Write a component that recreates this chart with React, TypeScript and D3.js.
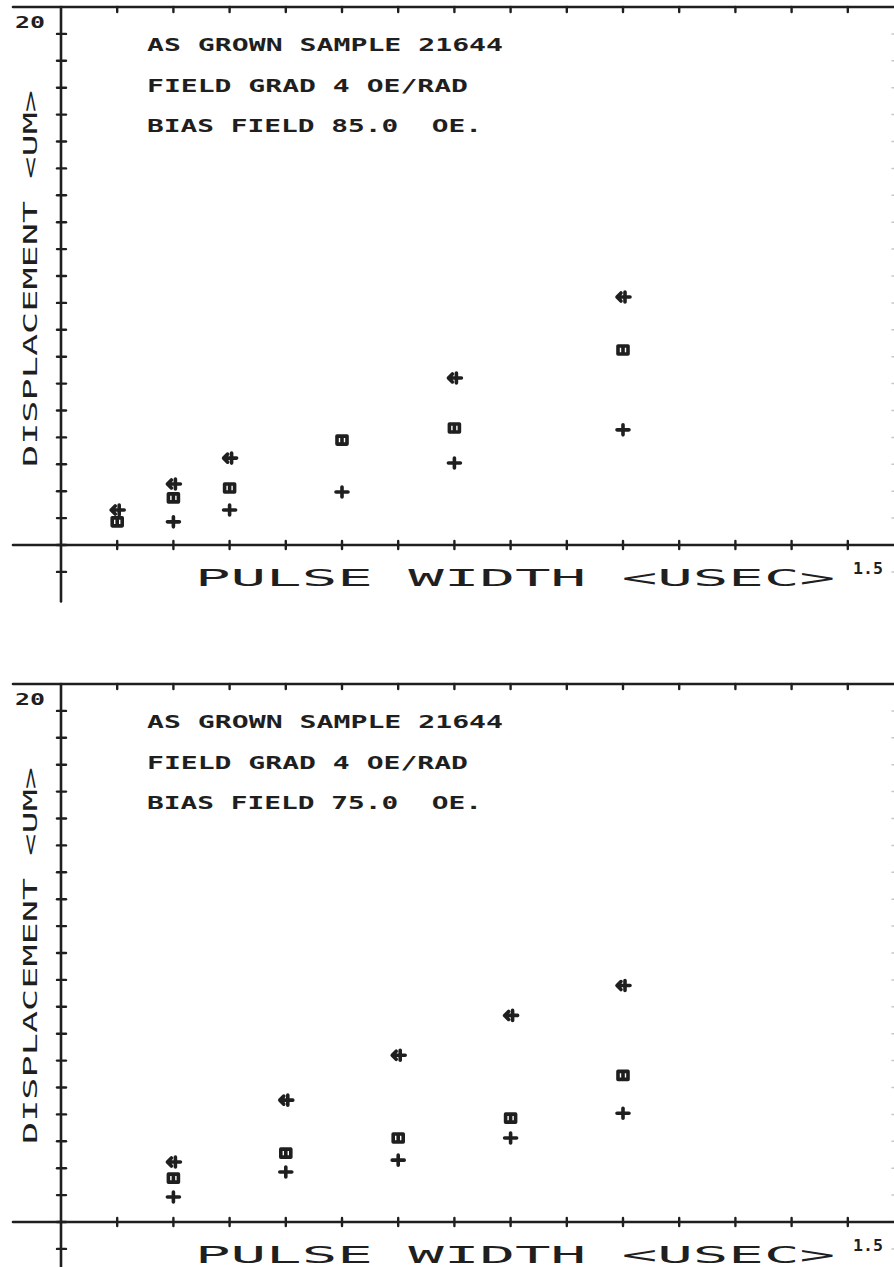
import React, { useEffect, useRef } from 'react';
import * as d3 from 'd3';

// pulse width (usec) / displacement (um)
const pulseWidths85 = [0.1, 0.2, 0.3, 0.5, 0.7, 1.0];
const low85 = [null, 0.86, 1.3, 1.97, 3.05, 4.28];
const mid85 = [0.86, 1.75, 2.12, 3.9, 4.35, 7.25];
const high85 = [1.3, 2.27, 3.23, null, 6.21, 9.22];

const pulseWidths75 = [0.2, 0.4, 0.6, 0.8, 1.0];
const low75 = [0.93, 1.86, 2.3, 3.12, 4.04];
const mid75 = [1.63, 2.56, 3.12, 3.86, 5.45];
const high75 = [2.23, 4.53, 6.2, 7.68, 8.79];

const headerLines85 = ['AS GROWN SAMPLE 21644', 'FIELD GRAD 4 OE/RAD', 'BIAS FIELD 85.0  OE.'];
const headerLines75 = ['AS GROWN SAMPLE 21644', 'FIELD GRAD 4 OE/RAD', 'BIAS FIELD 75.0  OE.'];

const yLabel = 'DISPLACEMENT <UM>';
const xLabel = 'PULSE WIDTH <USEC>';
const yMaxLabel = '20';
const xMaxLabel = '1.5';

const xTicks = d3.range(1, 15).map(d => d / 10);
const yTicks = d3.range(-1, 20);

const INK = '#1f1f1f';
const FONT = '"DejaVu Sans Mono", monospace';

const markerPaths: Record<string, string> = {
  low: 'M-6,0H6M0,-5V5',
  mid: 'M-5,-4H5V4H-5Z M0,-4V4',
  high: 'M2,-5V5 M-2,0H7 M-2,-4L-6,0L-2,4',
};

interface Panel {
  offset: number;
  xs: number[];
  low: (number | null)[];
  mid: (number | null)[];
  high: (number | null)[];
  header: string[];
}

const panels: Panel[] = [
  { offset: 0, xs: pulseWidths85, low: low85, mid: mid85, high: high85, header: headerLines85 },
  { offset: 677, xs: pulseWidths75, low: low75, mid: mid75, high: high75, header: headerLines75 },
];

export default function App() {
  const svgRef = useRef<SVGSVGElement>(null);

  useEffect(() => {
    if (!svgRef.current) return;
    const svg = d3.select(svgRef.current);
    svg.selectAll('*').remove();

    const headerLengths = [356, 321, 335];
    const headerOffsets = [43.5, 85, 125];

    panels.forEach(p => {
      const frameY = 7 + p.offset;
      const axisY = 545 + p.offset;
      const g = svg.append('g');

      const x = d3.scaleLinear().domain([0, 1.5]).range([61, 904]);
      const y = d3.scaleLinear().domain([0, 20]).range([axisY, frameY]);

      const line = (x1: number, y1: number, x2: number, y2: number, w = 2.6) =>
        g.append('line')
          .attr('x1', x1).attr('y1', y1).attr('x2', x2).attr('y2', y2)
          .attr('stroke', INK).attr('stroke-width', w).attr('stroke-linecap', 'round');

      // frame and axes
      line(13, frameY, x(1.5), frameY);
      line(13, axisY, x(1.5), axisY);
      line(x(0), frameY, x(0), y(-2.1));
      line(x(1.5), frameY, x(1.5), axisY);

      // tick marks
      yTicks.forEach(v => {
        line(x(0) - 4, y(v), x(0) + 5, y(v), 2.4);
        line(x(1.5) - 12, y(v), x(1.5), y(v), 1.5).attr('stroke-opacity', 0.25);
      });
      xTicks.forEach(v => {
        line(x(v), axisY - 4, x(v), axisY + 4, 2.4);
        line(x(v), frameY, x(v), frameY + 5, 2.4);
      });

      // header text
      p.header.forEach((t, i) => {
        g.append('text')
          .attr('x', 147)
          .attr('y', frameY + headerOffsets[i])
          .attr('textLength', headerLengths[i])
          .attr('lengthAdjust', 'spacingAndGlyphs')
          .attr('xml:space', 'preserve')
          .style('white-space', 'pre')
          .style('font-family', FONT)
          .style('font-size', '18px')
          .style('font-weight', 'bold')
          .attr('fill', INK)
          .text(t);
      });

      g.append('text')
        .attr('x', 15)
        .attr('y', frameY + 21)
        .attr('textLength', 30)
        .attr('lengthAdjust', 'spacingAndGlyphs')
        .style('font-family', FONT)
        .style('font-size', '16px')
        .style('font-weight', 'bold')
        .attr('fill', INK)
        .text(yMaxLabel);

      g.append('text')
        .attr('x', 853)
        .attr('y', axisY + 29)
        .attr('textLength', 30)
        .attr('lengthAdjust', 'spacingAndGlyphs')
        .style('font-family', FONT)
        .style('font-size', '16px')
        .style('font-weight', 'bold')
        .attr('fill', INK)
        .text(xMaxLabel);

      // axis titles
      g.append('text')
        .attr('x', 195)
        .attr('y', axisY + 41)
        .attr('textLength', 640)
        .attr('lengthAdjust', 'spacingAndGlyphs')
        .style('font-family', FONT)
        .style('font-size', '23px')
        .attr('fill', INK)
        .text(xLabel);

      g.append('text')
        .attr('transform', `translate(37,${467 + p.offset}) rotate(-90)`)
        .attr('textLength', 377)
        .attr('lengthAdjust', 'spacingAndGlyphs')
        .style('font-family', FONT)
        .style('font-size', '20px')
        .attr('fill', INK)
        .text(yLabel);

      // data markers
      (['low', 'mid', 'high'] as const).forEach(key => {
        const vals = p[key];
        const pts = p.xs.map((xv, i) => ({ xv, yv: vals[i] })).filter(d => d.yv != null);
        g.selectAll(`path.${key}`)
          .data(pts)
          .enter()
          .append('path')
          .attr('class', key)
          .attr('transform', d => `translate(${x(d.xv)},${y(d.yv as number)})`)
          .attr('d', markerPaths[key])
          .attr('fill', 'none')
          .attr('stroke', INK)
          .attr('stroke-width', 3.6)
          .attr('stroke-linecap', 'round')
          .attr('stroke-linejoin', 'round');
      });
    });
  }, []);

  return (
    <svg
      ref={svgRef}
      width={894}
      height={1267}
      style={{ position: 'absolute', left: 0, top: 0, background: '#fff' }}
    />
  );
}
